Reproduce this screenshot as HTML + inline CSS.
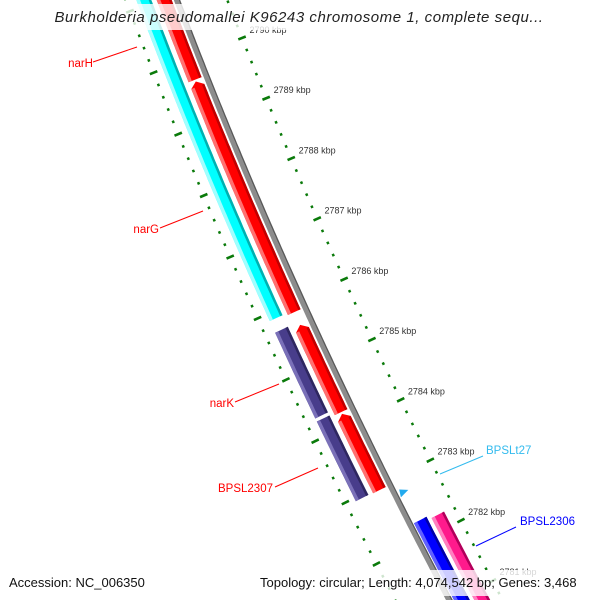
<!DOCTYPE html>
<html><head><meta charset="utf-8"><style>
html,body{margin:0;padding:0;background:#fff;width:600px;height:600px;overflow:hidden}
svg{display:block}
text{font-family:"Liberation Sans",sans-serif}
</style></head><body>
<svg id="map" width="600" height="600" viewBox="0 0 600 600" xmlns="http://www.w3.org/2000/svg">
<g id="rulers"></g>
<g id="backbone"></g>
<g id="genes"></g>
<g id="labels"></g>
<rect x="58" y="4" width="486" height="26" fill="#fff" fill-opacity="0.8"/>
<text x="299" y="22" text-anchor="middle" font-size="15" letter-spacing="0.55" font-style="italic" fill="#222">Burkholderia pseudomallei K96243 chromosome 1, complete sequ...</text>
<rect x="0" y="570" width="600" height="26" fill="#fff" fill-opacity="0.8"/>
<text x="9" y="587" font-size="13" fill="#111">Accession: NC_006350</text>
<text x="260" y="587" font-size="13" fill="#111">Topology: circular; Length: 4,074,542 bp; Genes: 3,468</text>
</svg>
<script>
// ---- data ----
const tickKbp = [2781,2782,2783,2784,2785,2786,2787,2788,2789,2790];
const tickLabels = ["2781 kbp","2782 kbp","2783 kbp","2784 kbp","2785 kbp","2786 kbp","2787 kbp","2788 kbp","2789 kbp","2790 kbp"];
const geneNames = ["narH","narG","narJ","narI","narY","narK","BPSL2307","BPSL2306","BPSL2305"];
const geneStart = [2792.0,2789.64,2785.65,2784.19,2792.0,2785.70,2784.25,2782.28,2782.23];
const geneEnd   = [2789.67,2785.86,2784.22,2782.94,2785.89,2784.30,2782.95,2780.0,2780.0];
const geneTrack = [-12,-12,-12,-12,-31,-31,-31,11,29];
const geneColor = ["#ff0000","#ff0000","#ff0000","#ff0000","#00ffff","#483d8b","#483d8b","#0000ff","#ff1a8c"];
const geneArrow = [true,true,true,true,false,false,false,false,false];
const trnaKbp = [2782.77];
const trnaNames = ["BPSLt27"];

// ---- geometry ----
const NS="http://www.w3.org/2000/svg";
function bx(y){return 177+0.379*y+1.25e-4*y*y;}
function bd(y){return 0.379+2.5e-4*y;}
function pt(yb,d){const s=bd(yb),n=Math.sqrt(1+s*s);return [bx(yb)+d/n, yb-d*s/n];}
function kToY(k){return 116+(2789-k)*60.86;}
function mk(tag,attrs,parent){const e=document.createElementNS(NS,tag);for(const k in attrs)e.setAttribute(k,attrs[k]);parent.appendChild(e);return e;}
function bandPts(y1,y2,d1,d2){
  const L=[],R=[];const steps=Math.max(2,Math.ceil(Math.abs(y2-y1)/4));
  for(let i=0;i<=steps;i++){const y=y1+(y2-y1)*i/steps;L.push(pt(y,d1));R.push(pt(y,d2));}
  return L.concat(R.reverse()).map(p=>p[0].toFixed(1)+","+p[1].toFixed(1)).join(" ");
}

// backbone
const bb=document.getElementById('backbone');
let p=mk('polygon',{points:bandPts(-40,660,-3,1.5),fill:'#8c8c8c'},bb);


p=mk('polygon',{points:bandPts(-40,660,1.5,3),fill:'#5a5a5a'},bb);



// rulers
const rg=document.getElementById('rulers');
function ruler(d,name){
  for(let k=2779;k<=2793.001;k+=0.2){
    const kk=Math.round(k*5)/5;const y=kToY(kk);
    if(y<-20||y>640)continue;
    const major=Math.abs(kk-Math.round(kk))<1e-6;
    const len=major?8:2.5;
    const a=pt(y,d-len/2),b=pt(y,d+len/2);
    const t=mk('line',{x1:a[0],y1:a[1],x2:b[0],y2:b[1],stroke:'#0a7a0a','stroke-width':2.6},rg);
    
    
  }
}
ruler(-48,'inner-ruler');
ruler(47,'outer-ruler');
tickKbp.forEach((k,i)=>{
  const y=kToY(k);const q=pt(y,47+8);
  const t=mk('text',{x:q[0].toFixed(1),y:(q[1]-2).toFixed(1),'font-size':9,fill:'#333'},rg);
  t.textContent=tickLabels[i];
  
  
});

// genes
const gg=document.getElementById('genes');
function lighten(c){return c==="#ff0000"?"#ff7070":c==="#00ffff"?"#a0ffff":c==="#483d8b"?"#7a70b8":c==="#0000ff"?"#6060ff":"#ff80c0";}
function darken(c){return c==="#ff0000"?"#c00000":c==="#00ffff"?"#00b0b0":c==="#483d8b"?"#2e2760":c==="#0000ff"?"#0000a8":"#b0005a";}
geneNames.forEach((n,i)=>{
  const yT=kToY(geneStart[i]),yB=kToY(geneEnd[i]);
  const d=geneTrack[i],w=14;
  const top=geneArrow[i]?yT+5:yT;
  const body=bandPts(top,yB,d-w/2,d+w/2);
  let pts=body;
  if(geneArrow[i]){const tip=pt(yT,d);
    pts=body+" "+pt(top,d-w/2).map(v=>v.toFixed(1)).join(",")+" "+tip.map(v=>v.toFixed(1)).join(",")+" "+pt(top,d+w/2).map(v=>v.toFixed(1)).join(",");}
  const g=mk('polygon',{points:pts,fill:geneColor[i]},gg);
  
  
  const hl=mk('polygon',{points:bandPts(top,yB,d-w/2,d-w/2+3.5),fill:lighten(geneColor[i])},gg);
  
  
  const sh=mk('polygon',{points:bandPts(top,yB,d+w/2-2.5,d+w/2),fill:darken(geneColor[i])},gg);
  
  
});
trnaKbp.forEach((k,i)=>{
  const y=kToY(k);const a=pt(y-3,6),b=pt(y+4,4),c=pt(y+1,14);
  const t=mk('polygon',{points:[a,b,c].map(q=>q.map(v=>v.toFixed(1)).join(",")).join(" "),fill:'#22aaee'},gg);
  
  
});

// labels (layout positions)
const lg=document.getElementById('labels');
const labs=[
 ["narH",93,67,"end",93,62,137,47,"#ff0000"],
 ["narG",159,233,"end",160,228,203,211,"#ff0000"],
 ["narK",234,407,"end",235,402,279,384,"#ff0000"],
 ["BPSL2307",273,492,"end",275,487,318,468,"#ff0000"],
 ["BPSLt27",486,454,"start",483,456,440,474,"#33bbee"],
 ["BPSL2306",520,525,"start",516,527,476,546,"#0000ff"]
];
labs.forEach(l=>{
  const ln=mk('line',{x1:l[4],y1:l[5],x2:l[6],y2:l[7],stroke:l[8],'stroke-width':1},lg);
  
  
  const t=mk('text',{x:l[1],y:l[2],'text-anchor':l[3],'font-size':11.5,fill:l[8]},lg);
  t.textContent=l[0];
  
  
});
</script>
</body></html>
